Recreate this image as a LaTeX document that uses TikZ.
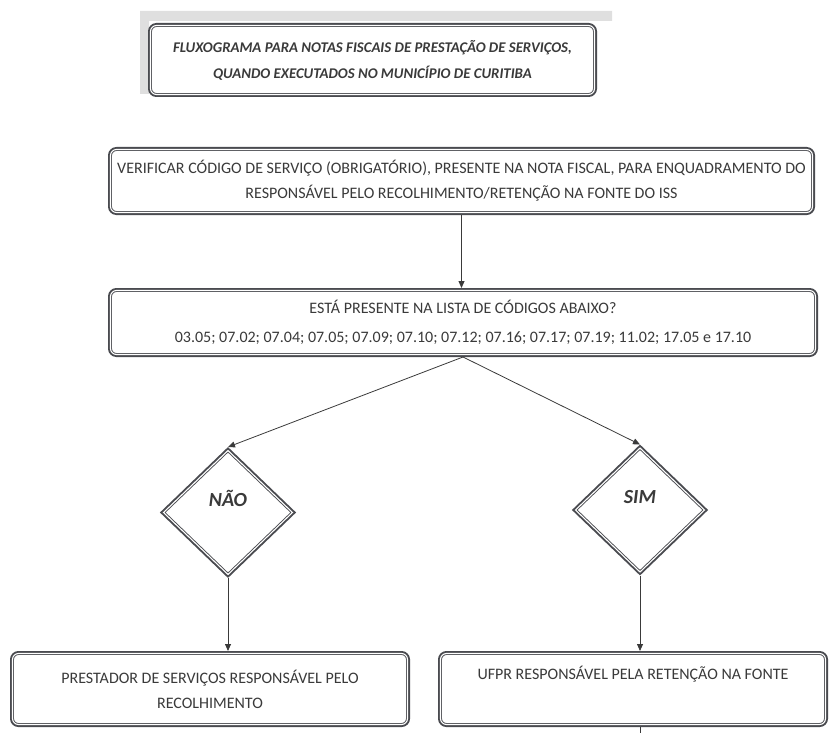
\documentclass[tikz,border=0pt]{standalone}
\usepackage{fontspec}
\setmainfont{Carlito}
\usepackage{tikz}
\usetikzlibrary{arrows.meta, positioning, shapes.geometric}

\definecolor{framegray}{HTML}{4A4B50}
\definecolor{inkgray}{HTML}{3A3A3A}

\begin{document}
\begin{tikzpicture}[x=1pt, y=-1pt, % pixel units, y grows downwards
          frame/.style={draw=framegray, line width=0.9pt, double=white, double distance=1.1pt,
                        preaction={draw=framegray, line width=5pt}, fill=white, outer sep=2.5pt},
          box/.style={frame, rectangle, rounded corners=6pt, align=center, text=inkgray,
                      font=\fontsize{16}{25}\selectfont},
          choice/.style={frame, diamond, inner sep=0pt, text=inkgray, text height=0pt, text depth=0pt,
                         font=\fontsize{20}{22}\selectfont\bfseries\itshape},
          link/.style={draw=inkgray, line width=0.8pt},
          flow/.style={link, -{Triangle[length=7pt, width=6pt]}}
        ]
        \useasboundingbox (0,0) rectangle (830,733);

        % Title with its grey band
        \fill[gray!25] (140,11) -- (612,11) -- (612,21) -- (149,21) -- (149,94) -- (140,94) -- cycle;
        \node[box, minimum width=444pt, minimum height=69pt,
              font=\fontsize{14.8}{26}\selectfont\bfseries\itshape] (titulo) at (372.5,60)
              {FLUXOGRAMA PARA NOTAS FISCAIS DE PRESTAÇÃO DE SERVIÇOS,\\QUANDO EXECUTADOS NO MUNICÍPIO DE CURITIBA};

        % Verification steps
        \node[box, minimum width=702pt, minimum height=63pt] (verificar) at (461.5,181)
              {VERIFICAR CÓDIGO DE SERVIÇO (OBRIGATÓRIO), PRESENTE NA NOTA FISCAL, PARA ENQUADRAMENTO DO\\RESPONSÁVEL PELO RECOLHIMENTO/RETENÇÃO NA FONTE DO ISS};
        \node[box, minimum width=705pt, minimum height=64pt] (lista) at (463,322.5)
              {ESTÁ PRESENTE NA LISTA DE CÓDIGOS ABAIXO?\\[4pt]03.05; 07.02; 07.04; 07.05; 07.09; 07.10; 07.12; 07.16; 07.17; 07.19; 11.02; 17.05 e 17.10};

        % Decisions
        \node[choice, minimum width=131pt, minimum height=126pt] (nao) at (228,512.5) {\raisebox{6pt}{NÃO}};
        \node[choice, minimum width=131pt, minimum height=126pt] (sim) at (640,510) {\raisebox{7pt}{SIM}};

        % Results
        \node[box, minimum width=395pt, minimum height=71pt] (prestador) at (210,689)
              {PRESTADOR DE SERVIÇOS RESPONSÁVEL PELO\\RECOLHIMENTO};
        \node[box, minimum width=385pt, minimum height=71pt] (ufpr) at (633,689)
              {UFPR RESPONSÁVEL PELA RETENÇÃO NA FONTE\\\strut};
        \coordinate (segue) at (640,740);

        % Connectors
        \draw[flow] (verificar.south) -- (verificar.south |- lista.north);
        \draw[flow] (lista.south) -- (nao.north);
        \draw[flow] (lista.south) -- (sim.north);
        \draw[flow] (nao.south) -- (nao.south |- prestador.north);
        \draw[flow] (sim.south) -- (sim.south |- ufpr.north);
        \draw[link] (segue |- ufpr.south) -- (segue);
\end{tikzpicture}
\end{document}
